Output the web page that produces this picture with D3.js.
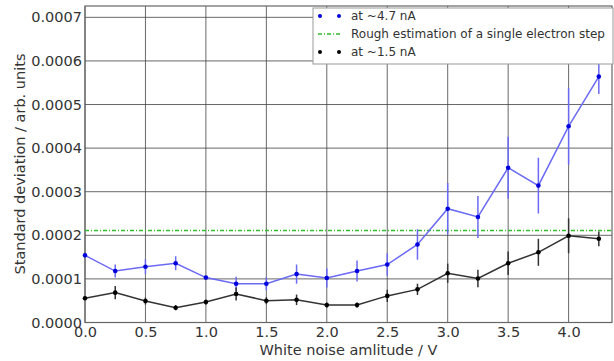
<!DOCTYPE html>
<html>
<head>
<meta charset="utf-8">
<script src="https://cdn.jsdelivr.net/npm/d3@7"></script>
<style>
body { margin: 0; background: #fff; }
text { font-family: "DejaVu Sans", sans-serif; fill: #333; }
</style>
</head>
<body>
<div id="chart"></div>
<script>
// noise amplitude (V)
var amps = [0, 0.25, 0.5, 0.75, 1.0, 1.25, 1.5, 1.75, 2.0, 2.25, 2.5, 2.75, 3.0, 3.25, 3.5, 3.75, 4.0, 4.25];

// ~4.7 nA series
var high = [0.000154, 0.000118, 0.000128, 0.000136, 0.000103, 0.000089, 0.000089, 0.000111, 0.000102, 0.000118, 0.000133, 0.000179, 0.000261, 0.000242, 0.000355, 0.000314, 0.000450, 0.000564];
var highErr = [0, 0.000015, 0.000017, 0.000016, 0, 0.000016, 0.000015, 0.000022, 0.000022, 0.000024, 0.000026, 0.000035, 0.000059, 0.000048, 0.000071, 0.000064, 0.000088, 0.000040];

// ~1.5 nA series
var low = [0.0000556, 0.0000685, 0.0000494, 0.000034, 0.000047, 0.0000655, 0.00005, 0.000052, 0.00004, 0.00004, 0.000061, 0.000076, 0.000113, 0.000101, 0.000136, 0.000161, 0.000199, 0.000192];
var lowErr = [0, 0.000015, 0.000008, 0.000006, 0.000006, 0.000015, 0.000008, 0.000012, 0.000006, 0.000006, 0.000014, 0.000013, 0.000022, 0.00002, 0.000027, 0.000031, 0.00004, 0.000017];

var stepLevel = 0.000211;

var xTicks = [0, 0.5, 1.0, 1.5, 2.0, 2.5, 3.0, 3.5, 4.0];
var yTicks = [0, 0.0001, 0.0002, 0.0003, 0.0004, 0.0005, 0.0006, 0.0007];

var legendLabels = ["at ~4.7 nA", "Rough estimation of a single electron step", "at ~1.5 nA"];

var W = 614, H = 361;
var svg = d3.select("#chart")
.append("svg")
.attr("width", W)
.attr("height", H);

var x = d3.scaleLinear().domain([0, 4.359]).range([85, 612]);
var y = d3.scaleLinear().domain([0, 0.000726]).range([322.5, 6]);

// grid
var grid = svg.append("g");
grid.selectAll(".gx")
.data(xTicks)
.enter()
.append("line")
.attr("x1", d => x(d)).attr("x2", d => x(d))
.attr("y1", y.range()[0]).attr("y2", y.range()[1])
.style("stroke", "#444").style("stroke-width", 1).style("opacity", 0.8);
grid.selectAll(".gy")
.data(yTicks)
.enter()
.append("line")
.attr("x1", x.range()[0]).attr("x2", x.range()[1])
.attr("y1", d => y(d)).attr("y2", d => y(d))
.style("stroke", "#444").style("stroke-width", 1).style("opacity", 0.8);

// axes
var xAxis = svg.append("g")
.attr("transform", "translate(0,322.5)")
.call(d3.axisBottom(x).tickValues(xTicks).tickFormat(d3.format(".1f")).tickSize(0).tickPadding(4));
var yAxis = svg.append("g")
.attr("transform", "translate(85,0)")
.call(d3.axisLeft(y).tickValues(yTicks).tickFormat(d3.format(".4f")).tickSize(0).tickPadding(3));
[xAxis, yAxis].forEach(function(a){
a.select(".domain").remove();
a.selectAll("text").style("font-size", "14.5px").style("fill", "#333");
});

// frame
svg.append("rect")
.attr("x", 85).attr("y", 6)
.attr("width", 612 - 85).attr("height", 322.5 - 6)
.style("fill", "none").style("stroke", "#666").style("stroke-width", 1.2);

// single electron step
svg.append("line")
.attr("x1", x.range()[0]).attr("x2", x.range()[1])
.attr("y1", y(stepLevel)).attr("y2", y(stepLevel))
.style("stroke", "#33bb33")
.style("stroke-width", 1.3)
.style("stroke-dasharray", "4,2,1,2");

function drawSeries(vals, errs, lineCol, dotCol) {
var g = svg.append("g");
var pts = amps.map((a, i) => ({a: a, v: vals[i], e: errs[i]}));
g.selectAll(".err")
.data(pts.filter(d => d.e > 0))
.enter()
.append("line")
.attr("x1", d => x(d.a)).attr("x2", d => x(d.a))
.attr("y1", d => y(d.v - d.e)).attr("y2", d => y(d.v + d.e))
.style("stroke", lineCol).style("stroke-width", 1.5);
g.append("path")
.datum(pts)
.attr("d", d3.line().x(d => x(d.a)).y(d => y(d.v)))
.style("fill", "none").style("stroke", lineCol).style("stroke-width", 1.5);
g.selectAll("circle")
.data(pts)
.enter()
.append("circle")
.attr("cx", d => x(d.a)).attr("cy", d => y(d.v))
.attr("r", 2.3)
.style("fill", dotCol);
}

drawSeries(high, highErr, "#6a6af5", "#0000dd");
drawSeries(low, lowErr, "#333", "#000");

// labels
svg.append("text")
.attr("x", 348.5).attr("y", 355)
.attr("text-anchor", "middle")
.style("font-size", "14.5px")
.text("White noise amlitude / V");
svg.append("text")
.attr("transform", "translate(25,164) rotate(-90)")
.attr("text-anchor", "middle")
.style("font-size", "14.5px")
.text("Standard deviation / arb. units");

// legend
var lg = svg.append("g");
lg.append("rect")
.attr("x", 313).attr("y", 8).attr("width", 300).attr("height", 56)
.style("fill", "#fff").style("stroke", "#999").style("stroke-width", 1);
var rowY = [16, 34, 52];
var legCols = ["#0000dd", "#33bb33", "#000"];
legendLabels.forEach(function(t, i){
if (i === 1) {
lg.append("line")
.attr("x1", 318).attr("x2", 342).attr("y1", rowY[i]).attr("y2", rowY[i])
.style("stroke", legCols[i]).style("stroke-width", 1.3)
.style("stroke-dasharray", "4,2,1,2");
} else {
[320, 339].forEach(function(cx){
lg.append("circle").attr("cx", cx).attr("cy", rowY[i]).attr("r", 2)
.style("fill", legCols[i]);
});
}
lg.append("text")
.attr("x", 351).attr("y", rowY[i] + 4)
.style("font-size", "12px")
.text(t);
});
</script>
</body>
</html>
